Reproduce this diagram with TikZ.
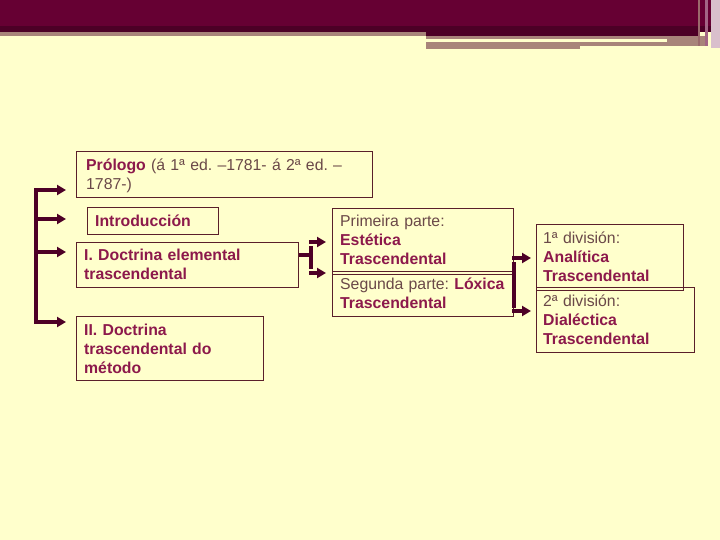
\documentclass[tikz,border=0pt]{standalone}
\usepackage{fontspec}
\setmainfont{Liberation Sans}
\usetikzlibrary{arrows.meta}
\frenchspacing
\definecolor{bg}{HTML}{FFFFCC}
\definecolor{maroon}{HTML}{660033}
\definecolor{tan}{HTML}{A8847A}
\definecolor{hl}{HTML}{8C194B}
\definecolor{nt}{HTML}{6A4848}
\definecolor{edge}{HTML}{5A1F2A}
\definecolor{arrc}{HTML}{4D0026}
\newcommand\kb[1]{\textbf{\color{hl}#1}}
\tikzset{
  box/.style={draw=edge, line width=1bp, anchor=north west, inner sep=0pt},
  txt/.style={anchor=base west, inner sep=0pt, text width=300bp, align=left,
    font=\fontsize{15.8bp}{19bp}\selectfont\frenchspacing, text=nt},
  arr/.style={draw=arrc, line width=3.6bp, -{Triangle[length=9bp,width=10bp]}},
  spine/.style={draw=arrc, line width=3.6bp}
}
\begin{document}
\begin{tikzpicture}[x=1bp,y=-1bp]
\useasboundingbox (0,0) rectangle (720,540);
\fill[bg] (0,0) rectangle (720,540);
% header decoration
\fill[maroon] (0,0) rectangle (720,32);
\fill[maroon!75!black] (0,26) rectangle (720,32);
\fill[maroon!75!black] (426,32) rectangle (698,36);
\fill[tan] (0,32) rectangle (426,36);
\fill[tan] (426,36) rectangle (667,39);
\fill[tan] (426,42) rectangle (707,46);
\fill[tan] (426,46) rectangle (580,49);
\fill[tan] (667,36) rectangle (707,46);
\fill[tan!80!maroon] (698,0) rectangle (700,46);
\fill[maroon!60!white] (705,0) rectangle (708,46);
\fill[maroon!25!white] (711,0) rectangle (720,48);

% boxes
\node[box, minimum width=296bp, minimum height=46bp] (pro) at (76,151) {};
\node[box, minimum width=131bp, minimum height=27bp] (intro) at (87,207) {};
\node[box, minimum width=222bp, minimum height=45bp] (doc1) at (76,242) {};
\node[box, minimum width=187bp, minimum height=64bp] (doc2) at (76,316) {};
\node[box, minimum width=181bp, minimum height=66bp] (est) at (332,208) {};
\node[box, minimum width=181bp, minimum height=45bp] (lox) at (332,271) {};
\node[box, minimum width=147bp, minimum height=66bp] (ana) at (536,224) {};
\node[box, minimum width=158bp, minimum height=65bp] (dia) at (536,287) {};

% texts
\node[txt] (tpro) at (86,171) {\kb{Prólogo} (á 1ª ed. –1781- á 2ª ed. –\\1787-)};
\node[txt] (tintro) at (95,227) {\kb{Introducción}};
\node[txt] (tdoc1) at (84,261) {\kb{I. Doctrina elemental}\\\kb{trascendental}};
\node[txt] (tdoc2) at (84,335) {\kb{II. Doctrina}\\\kb{trascendental do}\\\kb{método}};
\node[txt] (test) at (340,227) {Primeira parte:\\\kb{Estética}\\\kb{Trascendental}};
\node[txt] (tlox) at (340,289) {Segunda parte: \kb{Lóxica}\\\kb{Trascendental}};
\node[txt] (tana) at (543,244) {1ª división:\\\kb{Analítica}\\\kb{Trascendental}};
\node[txt] (tdia) at (543,306) {2ª división:\\\kb{Dialéctica}\\\kb{Trascendental}};

% left bracket
\coordinate (l1) at (36,190);
\coordinate (l2) at (36,219);
\coordinate (l3) at (36,252);
\coordinate (l4) at (36,322);
\draw[spine] ([yshift=-1.8bp]l1) -- ([yshift=1.8bp]l4);
\draw[arr, shorten >=10bp] ([xshift=-1.8bp]l1) -- (l1 -| pro.west);
\draw[arr, shorten >=21bp] ([xshift=-1.8bp]l2) -- (l2 -| intro.west);
\draw[arr, shorten >=10bp] ([xshift=-1.8bp]l3) -- (l3 -| doc1.west);
\draw[arr, shorten >=10bp] ([xshift=-1.8bp]l4) -- (l4 -| doc2.west);

% middle bracket
\coordinate (m0) at (311,255);
\coordinate (m1) at (311,242);
\coordinate (m2) at (311,273);
\draw[spine] (m0 -| doc1.east) -- (m0);
\draw[spine] ([yshift=-4bp]m1) -- ([yshift=4bp]m2);
\draw[arr, shorten >=6bp] ([xshift=-1.8bp]m1) -- (m1 -| est.west);
\draw[arr, shorten >=6bp] ([xshift=-1.8bp]m2) -- (m2 -| est.west);

% right bracket
\coordinate (r1) at (514,258);
\coordinate (r2) at (514,311);
\draw[spine] ([yshift=-4bp]r1) -- ([yshift=3bp]r2);
\draw[arr, shorten >=5bp] ([xshift=-1.8bp]r1) -- (r1 -| ana.west);
\draw[arr, shorten >=5bp] ([xshift=-1.8bp]r2) -- (r2 -| dia.west);
\end{tikzpicture}
\end{document}
